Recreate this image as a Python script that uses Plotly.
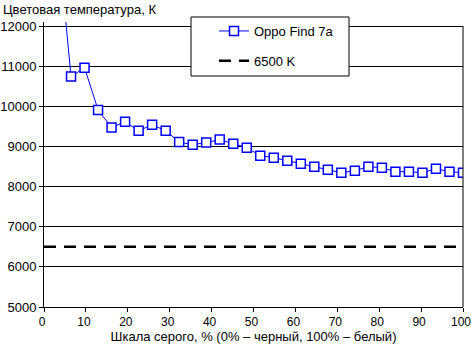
import plotly.graph_objects as go

# Data
gray_levels = [i * 100 / 31 for i in range(1, 32)]
oppo_temp = [14300, 10740, 10960, 9910, 9470, 9615, 9390, 9540, 9390, 9110,
             9045, 9095, 9170, 9070, 8970, 8770, 8720, 8645, 8570, 8495,
             8420, 8345, 8395, 8495, 8470, 8370, 8370, 8345, 8445, 8370, 8345]
ref_x = [0, 100]
ref_temp = [6500, 6500]
x_ticks = list(range(0, 101, 10))
y_ticks = list(range(5000, 12001, 1000))

FONT = "Liberation Sans, Arial, sans-serif"
FS = 13

fig = go.Figure()
fig.add_trace(go.Scatter(
    x=gray_levels, y=oppo_temp, mode="lines+markers", name="Oppo Find 7a",
    line=dict(color="#0000FF", width=1),
    marker=dict(symbol="square", size=9, color="white",
                line=dict(color="#0000FF", width=1.5)),
    legendgroup="a",
))
fig.add_trace(go.Scatter(
    x=ref_x, y=ref_temp, mode="lines", name="6500 K",
    line=dict(color="black", width=2.5, dash="12px,8px"),
    legendgroup="b",
))

fig.update_layout(
    width=472, height=349,
    margin=dict(l=44, r=9, t=22, b=42),
    paper_bgcolor="white", plot_bgcolor="white",
    font=dict(family=FONT, size=FS, color="black"),
    showlegend=True,
    legend=dict(x=(214-44)/419, y=(307-16)/285, xanchor="left", yanchor="top",
                bgcolor="rgba(0,0,0,0)", borderwidth=0,
                traceorder="grouped", tracegroupgap=10,
                font=dict(family=FONT, size=FS)),
    title=dict(text="Цветовая температура, К", xref="container", x=3/472,
               xanchor="left", yref="container", y=1-9/349, yanchor="middle",
               font=dict(family=FONT, size=FS)),
    shapes=[
        dict(type="rect", xref="paper", yref="paper",
             x0=(191-44)/419, x1=(349-44)/419,
             y0=(307-76)/285, y1=(307-17)/285,
             line=dict(color="black", width=1), fillcolor="white", layer="above"),
        dict(type="line", xref="paper", yref="y", x0=1, x1=1, y0=5000, y1=12000,
             line=dict(color="black", width=1), layer="above"),
    ],
)
fig.update_xaxes(
    range=[0, 100], tickvals=x_ticks, ticktext=[str(v) for v in x_ticks],
    tickfont=dict(family=FONT, size=12), ticklabelshift=-2,
    showgrid=False, zeroline=False, ticklabeloverflow="allow", automargin=False,
    showline=True, linecolor="black", linewidth=1,
    ticks="outside", ticklen=4, tickcolor="black",
    title=dict(text="Шкала серого, % (0% – черный, 100% – белый)",
               font=dict(family=FONT, size=FS), standoff=1),
)
fig.update_yaxes(
    range=[5000, 12100], tickvals=y_ticks, ticktext=[str(v) for v in y_ticks],
    showgrid=True, gridcolor="black", ticklabeloverflow="allow", automargin=False,
    gridwidth=1, zeroline=False, showline=True, linecolor="black", linewidth=1,
    ticks="outside", ticklen=4, tickcolor="black",
)

fig.write_html("out.html")
